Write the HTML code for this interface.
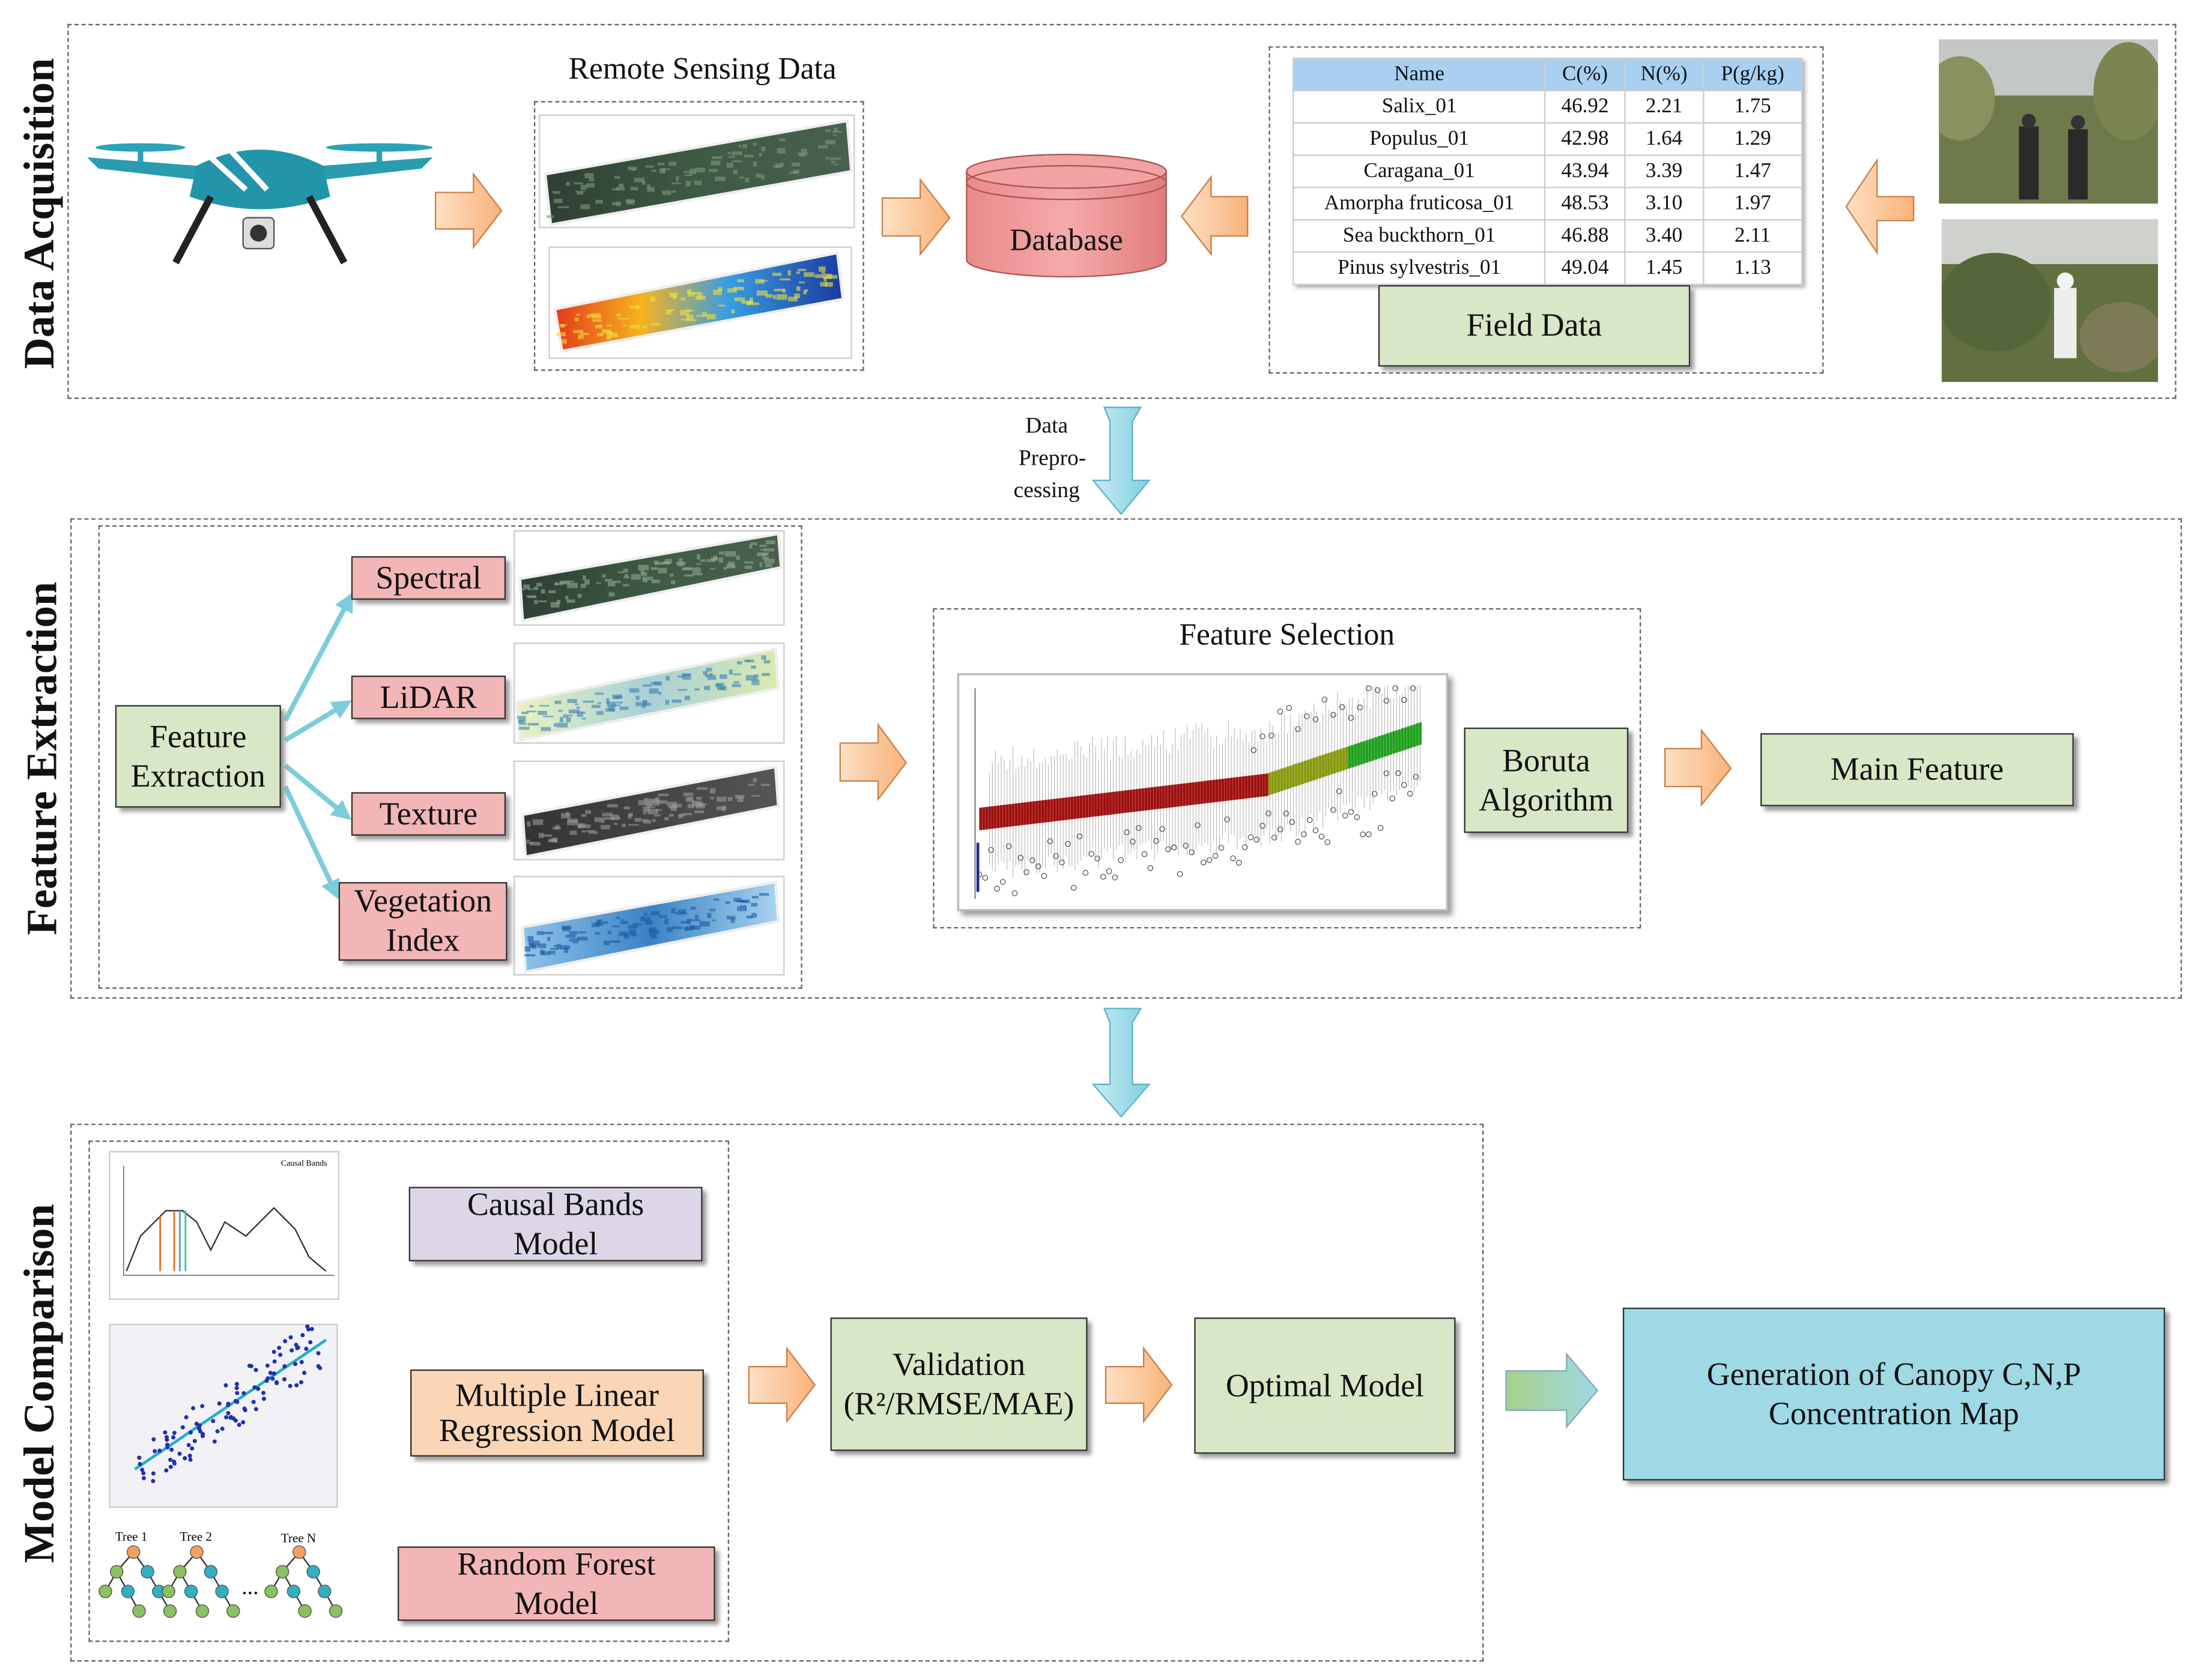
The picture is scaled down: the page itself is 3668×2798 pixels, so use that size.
<!DOCTYPE html>
<html><head><meta charset="utf-8">
<style>
html,body{margin:0;padding:0;background:#fff;}
#wrap{width:1568px;height:1196px;position:relative;transform:scale(2.3393);transform-origin:0 0;font-family:"Liberation Serif",serif;color:#111;}
.ab{position:absolute;}
.dash{position:absolute;border:1.3px dashed #666;box-sizing:border-box;}
.box{position:absolute;box-sizing:border-box;border:1px solid #333;box-shadow:3px 3px 3px #999;display:flex;align-items:center;justify-content:center;text-align:center;font-size:23px;line-height:28px;}
.g{background:#d8e7c6;}
.p{background:#f3b6b6;}
.vl{position:absolute;font-weight:bold;font-size:31px;transform:translate(-50%,-50%) rotate(-90deg);white-space:nowrap;}
table{border-collapse:collapse;font-size:15px;}
td,th{border:1px solid #ccc;padding:0 6px;height:22px;text-align:center;font-weight:normal;}
th{background:#a9d0f1;}
</style></head><body><div id="wrap">
<svg class="ab" style="left:0;top:0" width="1568" height="1196">
<defs>
<linearGradient id="og" x1="0" x2="1"><stop offset="0" stop-color="#fde0c4"/><stop offset="1" stop-color="#f9b27a"/></linearGradient>
<linearGradient id="cg" x1="0" x2="1"><stop offset="0" stop-color="#c8ecf4"/><stop offset="1" stop-color="#7fcfe0"/></linearGradient>
<linearGradient id="gg" x1="0" x2="1"><stop offset="0" stop-color="#a6d08a"/><stop offset="1" stop-color="#9fd9e6"/></linearGradient>
<linearGradient id="s1" x1="0" x2="1"><stop offset="0" stop-color="#2e3f34"/><stop offset=".5" stop-color="#3e5a44"/><stop offset="1" stop-color="#4a5f50"/></linearGradient>
<linearGradient id="s2" x1="0" x2="1"><stop offset="0" stop-color="#e23a1a"/><stop offset=".3" stop-color="#f6b320"/><stop offset=".6" stop-color="#3a9de0"/><stop offset="1" stop-color="#1a3aa0"/></linearGradient>
<linearGradient id="s3" x1="0" x2="1"><stop offset="0" stop-color="#e9f3c0"/><stop offset=".5" stop-color="#a9cfd8"/><stop offset="1" stop-color="#d8ecb0"/></linearGradient>
<linearGradient id="s4" x1="0" x2="1"><stop offset="0" stop-color="#333"/><stop offset="1" stop-color="#555"/></linearGradient>
<linearGradient id="s5" x1="0" x2="1"><stop offset="0" stop-color="#8fc3ea"/><stop offset=".5" stop-color="#3b82c4"/><stop offset="1" stop-color="#a9d4f0"/></linearGradient>
<linearGradient id="db" x1="0" x2="1"><stop offset="0" stop-color="#e98a8a"/><stop offset=".5" stop-color="#f5aaaa"/><stop offset="1" stop-color="#e07c7c"/></linearGradient>
<marker id="ah" viewBox="0 0 10 10" refX="8" refY="5" markerWidth="4" markerHeight="4" orient="auto"><path d="M0,0 L10,5 L0,10Z" fill="#7ccddc"/></marker>
<clipPath id="p1"><rect x="1380" y="28" width="156" height="117"/></clipPath>
<clipPath id="p2"><rect x="1382" y="156" width="154" height="116"/></clipPath>
<clipPath id="bc"><rect x="683" y="481" width="346" height="166"/></clipPath>
</defs>
<g stroke="#c9804a" stroke-width="1" fill="url(#og)">
<polygon points="310,137 337,137 337,124 357,150 337,176 337,163 310,163"/>
<polygon points="628,141 655,141 655,128 676,155 655,181 655,168 628,168"/>
<polygon points="888,140 862,140 862,126 841,154 862,181 862,168 888,168"/>
<polygon points="1362,140 1336,140 1336,114 1314,147 1336,180 1336,157 1362,157"/>
<polygon points="598,529 625,529 625,516 645,543 625,569 625,556 598,556"/>
<polygon points="1185,533 1211,533 1211,520 1232,547 1211,573 1211,560 1185,560"/>
<polygon points="533,973 560,973 560,960 580,986 560,1012 560,999 533,999"/>
<polygon points="787,973 814,973 814,960 834,986 814,1012 814,999 787,999"/>
</g>
<polygon points="1072,976 1115,976 1115,964 1137,990 1115,1016 1115,1004 1072,1004" fill="url(#gg)" stroke="#8ab" stroke-width="1"/>
<g fill="url(#cg)" stroke="#5fb3c8" stroke-width="1">
<polygon points="786,290 812,290 806,300 806,342 818,342 798,366 778,342 790,342 790,300"/>
<polygon points="786,718 812,718 806,728 806,772 818,772 798,795 778,772 790,772 790,728"/>
</g>
<!-- drone -->
<g>
<ellipse cx="100" cy="105" rx="32" ry="3" fill="#2aa3b8"/><ellipse cx="270" cy="105" rx="38" ry="3" fill="#2aa3b8"/>
<rect x="98" y="105" width="4" height="12" fill="#2aa3b8"/><rect x="268" y="105" width="4" height="12" fill="#2aa3b8"/>
<path d="M62,112 L140,118 L230,118 L308,112 L300,120 L230,128 L140,128 L70,120Z" fill="#2a9cb0"/>
<path d="M140,118 Q185,95 230,118 L235,140 Q185,158 135,140Z" fill="#2295aa"/>
<path d="M150,112 L175,135 M165,108 L190,135" stroke="#fff" stroke-width="4"/>
<path d="M150,140 L125,187 M220,140 L245,187" stroke="#222" stroke-width="5"/>
<rect x="173" y="155" width="22" height="22" rx="3" fill="#ddd" stroke="#555"/><circle cx="184" cy="166" r="6" fill="#333"/>
</g>
<!-- db -->
<path d="M688,122 L688,185 A71,12 0 0 0 830,185 L830,122" fill="url(#db)" stroke="#a55"/>
<ellipse cx="759" cy="122" rx="71" ry="12" fill="#f2a2a2" stroke="#a55"/>
<ellipse cx="759" cy="130" rx="71" ry="12" fill="none" stroke="#a55"/>
<!-- strips -->
<g stroke="#eee" stroke-width="2">
<polygon points="388,124 603,86 606,122 392,160" fill="url(#s1)"/>
<polygon points="395,220 596,180 600,213 400,250" fill="url(#s2)"/>
<polygon points="370,412 554,380 556,404 372,442" fill="url(#s1)"/>
<polygon points="368,500 552,462 554,490 370,527" fill="url(#s3)"/>
<polygon points="372,580 552,546 554,574 374,610" fill="url(#s4)"/>
<polygon points="372,660 552,628 554,656 374,692" fill="url(#s5)"/>
</g>
<g id="tex"></g>
<g fill="none" stroke="#ccc" stroke-width="1">
<rect x="384" y="82" width="224" height="80" fill="none"/><rect x="391" y="176" width="215" height="79"/>
<rect x="366" y="378" width="192" height="67"/><rect x="366" y="458" width="192" height="71"/><rect x="366" y="542" width="192" height="70"/><rect x="366" y="624" width="192" height="70"/>
</g>
<!-- cyan connectors -->
<g stroke="#7ccddc" stroke-width="3.5" marker-end="url(#ah)">
<line x1="203" y1="513" x2="250" y2="424"/><line x1="203" y1="527" x2="248" y2="500"/><line x1="203" y1="545" x2="248" y2="582"/><line x1="203" y1="560" x2="240" y2="638"/>
</g>
<!-- photos -->
<g clip-path="url(#p1)">
<rect x="1380" y="28" width="156" height="117" fill="#6f7a4c"/><rect x="1380" y="28" width="156" height="40" fill="#c3c8c4"/>
<ellipse cx="1395" cy="70" rx="25" ry="30" fill="#8a9060"/><ellipse cx="1515" cy="65" rx="25" ry="35" fill="#7a8552"/>
<rect x="1437" y="90" width="14" height="52" fill="#2a2a2a"/><circle cx="1444" cy="86" r="5" fill="#333"/>
<rect x="1472" y="92" width="14" height="50" fill="#2a2a2a"/><circle cx="1479" cy="87" r="5" fill="#333"/>
</g>
<g clip-path="url(#p2)">
<rect x="1382" y="156" width="154" height="116" fill="#62703f"/><rect x="1382" y="156" width="154" height="32" fill="#cfd2cc"/>
<ellipse cx="1420" cy="215" rx="40" ry="35" fill="#55663a"/><ellipse cx="1510" cy="240" rx="30" ry="25" fill="#7d7a58"/>
<rect x="1462" y="205" width="16" height="50" fill="#eee"/><circle cx="1470" cy="200" r="6" fill="#f4f4f4"/>
</g>
<!-- boruta chart -->
<rect x="682" y="480" width="348" height="168" fill="#fff" stroke="#bbb" stroke-width="1.5" style="filter:drop-shadow(3px 3px 2px #999)"/>
<g id="bor" clip-path="url(#bc)"></g>
<!-- spectral chart -->
<rect x="78" y="820" width="163" height="105" fill="#fff" stroke="#ccc"/>
<path d="M90,905 L100,880 L110,870 L118,862 L130,862 L140,870 L150,890 L160,870 L175,880 L195,860 L210,875 L220,895 L232,905" fill="none" stroke="#333"/>
<g stroke-width="1.2"><line x1="114" y1="866" x2="114" y2="905" stroke="#e07020"/><line x1="124" y1="862" x2="124" y2="905" stroke="#e07020"/><line x1="128" y1="862" x2="128" y2="905" stroke="#4fa0e0"/><line x1="132" y1="862" x2="132" y2="905" stroke="#40c0a0"/></g>
<line x1="88" y1="908" x2="238" y2="908" stroke="#555" stroke-width=".6"/>
<line x1="88" y1="830" x2="88" y2="908" stroke="#555" stroke-width=".6"/>
<text x="200" y="830" font-size="6">Causal Bands</text>
<!-- scatter -->
<rect x="78" y="943" width="162" height="130" fill="#f2f2f6" stroke="#ccc"/>
<line x1="96" y1="1046" x2="232" y2="954" stroke="#20b0c8" stroke-width="2"/>
<g id="sc" fill="#2030b0"></g>
<!-- trees -->
<g id="tr"></g>
<text x="82" y="1097" font-size="9">Tree 1</text><text x="128" y="1097" font-size="9">Tree 2</text><text x="200" y="1098" font-size="9">Tree N</text>
<text x="172" y="1135" font-size="16">...</text>
</svg>

<div class="dash" style="left:48px;top:17px;width:1501px;height:267px"></div>
<div class="vl" style="left:28px;top:152px">Data Acquisition</div>
<div class="ab" style="left:380px;top:36px;width:240px;text-align:center;font-size:22px">Remote Sensing Data</div>
<div class="dash" style="left:380px;top:72px;width:235px;height:192px"></div>
<div class="ab" style="left:688px;top:158px;width:142px;text-align:center;font-size:22px">Database</div>
<div class="dash" style="left:903px;top:33px;width:395px;height:233px"></div>
<table class="ab" style="left:920px;top:41px;width:363px;box-shadow:2px 2px 3px #aaa;background:#fff">
<tr><th>Name</th><th>C(%)</th><th>N(%)</th><th>P(g/kg)</th></tr>
<tr><td>Salix_01</td><td>46.92</td><td>2.21</td><td>1.75</td></tr>
<tr><td>Populus_01</td><td>42.98</td><td>1.64</td><td>1.29</td></tr>
<tr><td>Caragana_01</td><td>43.94</td><td>3.39</td><td>1.47</td></tr>
<tr><td>Amorpha fruticosa_01</td><td>48.53</td><td>3.10</td><td>1.97</td></tr>
<tr><td>Sea buckthorn_01</td><td>46.88</td><td>3.40</td><td>2.11</td></tr>
<tr><td>Pinus sylvestris_01</td><td>49.04</td><td>1.45</td><td>1.13</td></tr>
</table>
<div class="box g" style="left:981px;top:203px;width:222px;height:58px">Field Data</div>
<div class="ab" style="left:705px;top:292px;width:80px;text-align:center;font-size:16px;line-height:23px">Data<br>&nbsp;&nbsp;Prepro-<br>cessing</div>

<div class="dash" style="left:50px;top:369px;width:1503px;height:342px"></div>
<div class="vl" style="left:30px;top:540px">Feature Extraction</div>
<div class="dash" style="left:70px;top:374px;width:501px;height:330px"></div>
<div class="box g" style="left:82px;top:502px;width:118px;height:73px">Feature<br>Extraction</div>
<div class="box p" style="left:250px;top:396px;width:110px;height:31px">Spectral</div>
<div class="box p" style="left:250px;top:481px;width:110px;height:31px">LiDAR</div>
<div class="box p" style="left:250px;top:564px;width:110px;height:31px">Texture</div>
<div class="box p" style="left:241px;top:628px;width:120px;height:56px">Vegetation<br>Index</div>
<div class="dash" style="left:664px;top:433px;width:504px;height:228px"></div>
<div class="ab" style="left:664px;top:439px;width:504px;text-align:center;font-size:22px">Feature Selection</div>
<div class="box g" style="left:1042px;top:518px;width:117px;height:75px">Boruta<br>Algorithm</div>
<div class="box g" style="left:1253px;top:522px;width:223px;height:52px">Main Feature</div>

<div class="dash" style="left:50px;top:800px;width:1006px;height:383px"></div>
<div class="vl" style="left:28px;top:985px">Model Comparison</div>
<div class="dash" style="left:63px;top:812px;width:456px;height:357px"></div>
<div class="box" style="left:291px;top:845px;width:209px;height:53px;background:#ddd6e9">Causal Bands<br>Model</div>
<div class="box" style="left:292px;top:975px;width:209px;height:62px;background:#fbd6b6;line-height:25px">Multiple Linear<br>Regression Model</div>
<div class="box p" style="left:283px;top:1101px;width:226px;height:53px">Random Forest<br>Model</div>
<div class="box g" style="left:591px;top:938px;width:183px;height:95px">Validation<br>(R²/RMSE/MAE)</div>
<div class="box g" style="left:850px;top:938px;width:186px;height:97px">Optimal Model</div>
<div class="box" style="left:1155px;top:931px;width:386px;height:123px;background:#9fd9e6">Generation of Canopy C,N,P<br>Concentration Map</div>
</div>
<script>
var ns="http://www.w3.org/2000/svg";
function el(p,t,a){var e=document.createElementNS(ns,t);for(var k in a)e.setAttribute(k,a[k]);p.appendChild(e);return e;}
var b=document.getElementById('bor');
var seed=7;function rnd(){seed=(seed*9301+49297)%233280;return seed/233280;}
el(b,'line',{x1:694,y1:490,x2:694,y2:640,stroke:'#444','stroke-width':0.6});
for(var i=0;i<150;i++){var x=697+i*2.1;var y=i<98?583-i*0.25:(558-(i-98)*0.7);
var c=i<98?'#a01010':(i<125?'#8a9a10':'#20a020');
if(i>2){el(b,'line',{x1:x+0.9,y1:Math.max(488,y-30-rnd()*20),x2:x+0.9,y2:y+30+rnd()*15,stroke:'#aaa','stroke-width':0.4});}
el(b,'rect',{x:x,y:y-8,width:2,height:16,fill:c});
if(i%2==0)el(b,'circle',{cx:x,cy:Math.min(636,y+20+rnd()*40),r:1.8,fill:'none',stroke:'#444','stroke-width':0.5});
if(i>90&&i%3==0)el(b,'circle',{cx:x,cy:Math.max(490,y-25-rnd()*25),r:1.8,fill:'none',stroke:'#444','stroke-width':0.5});}
el(b,'rect',{x:695,y:600,width:2,height:35,fill:'#1a2a90'});
var tex=document.getElementById('tex');
var strips=[[388,124,606,86,34,'#7d9a7a'],[395,220,598,182,30,'#f0e040'],[370,412,554,380,26,'#90a890'],[368,500,552,462,26,'#3a80b0'],[372,580,552,546,26,'#999'],[372,660,552,628,26,'#1a5aa0']];
strips.forEach(function(s){for(var k=0;k<90;k++){var t=rnd();var x=s[0]+t*(s[2]-s[0]-8);var y=s[1]+t*(s[3]-s[1])+4+rnd()*(s[4]-8);el(tex,'rect',{x:x,y:y,width:2+rnd()*6,height:1+rnd()*3,fill:s[5],opacity:0.6});}});
var s=document.getElementById('sc');
for(var i=0;i<110;i++){var t=rnd();var x=98+t*132;var y=1046-t*92+(rnd()*40-20);el(s,'circle',{cx:x,cy:y,r:1.5});}
var tr=document.getElementById('tr');
[[95,1105],[140,1105],[213,1105]].forEach(function(p){var x=p[0],y=p[1];
var n=[[x,y,'#f4a060'],[x-12,y+14,'#8cc060'],[x+10,y+14,'#30b0c0'],[x-20,y+28,'#8cc060'],[x-4,y+28,'#30b0c0'],[x+18,y+28,'#30b0c0'],[x+4,y+42,'#8cc060'],[x+26,y+42,'#8cc060']];
[[0,1],[0,2],[1,3],[1,4],[2,5],[4,6],[5,7]].forEach(function(e){el(tr,'line',{x1:n[e[0]][0],y1:n[e[0]][1],x2:n[e[1]][0],y2:n[e[1]][1],stroke:'#333','stroke-width':1});});
n.forEach(function(q){el(tr,'circle',{cx:q[0],cy:q[1],r:4.5,fill:q[2],stroke:'#555','stroke-width':0.6});});});
</script>
</body></html>
